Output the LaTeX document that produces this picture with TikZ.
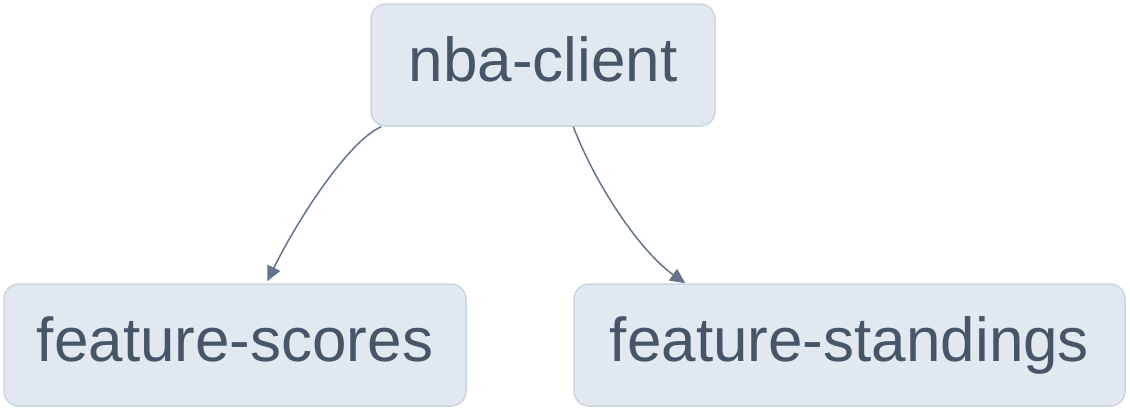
\documentclass[tikz,border=0pt]{standalone}
\usepackage{fontspec}
\setmainfont{Liberation Sans}
\usetikzlibrary{arrows.meta}
\definecolor{boxfill}{HTML}{E2E8F0}
\definecolor{boxline}{HTML}{CBD5E1}
\definecolor{boxtext}{HTML}{475569}
\definecolor{edgecol}{HTML}{64748B}
\begin{document}
\begin{tikzpicture}[x=1pt,y=-1pt,
  box/.style={draw=boxline, fill=boxfill, line width=1.5pt, rounded corners=15pt,
    text=boxtext, font=\fontsize{62}{74}\selectfont, inner sep=0pt,
    minimum height=122pt, text height=44pt, text depth=12pt},
  edge/.style={draw=edgecol, line width=1.5pt, -{Triangle[length=15pt,width=14pt]}}]
\useasboundingbox (0,0) rectangle (1130,410);
\node[box, minimum width=344pt] (nba) at (543,65) {nba-client};
\node[box, minimum width=462pt] (fs) at (235,345) {feature-scores};
\node[box, minimum width=551pt] (fst) at (849.5,345) {feature-standings};
\draw[edge] ([xshift=11pt]nba.south west) .. controls (350,140) and (300,215) .. ([xshift=264pt,yshift=2pt]fs.north west);
\draw[edge] ([xshift=203pt]nba.south west) .. controls (600,195) and (645,255) .. ([xshift=112pt]fst.north west);
\end{tikzpicture}
\end{document}
